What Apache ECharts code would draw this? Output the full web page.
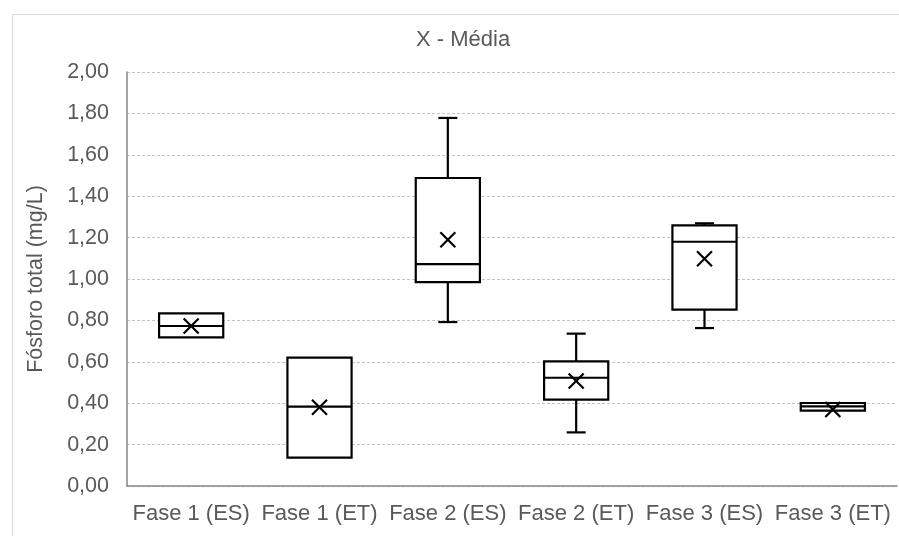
<!DOCTYPE html>
<html>
<head>
<meta charset="utf-8">
<script src="https://cdn.jsdelivr.net/npm/echarts@6/dist/echarts.min.js"></script>
<style>html,body{margin:0;padding:0;background:#fff}#c{width:899px;height:536px}</style>
</head>
<body>
<div id="c"></div>
<script>
const categories = ['Fase 1 (ES)', 'Fase 1 (ET)', 'Fase 2 (ES)', 'Fase 2 (ET)', 'Fase 3 (ES)', 'Fase 3 (ET)'];
const minVals    = [0.718, 0.137, 0.792, 0.259, 0.763, 0.364];
const q1Vals     = [0.718, 0.137, 0.985, 0.417, 0.852, 0.364];
const medianVals = [0.773, 0.383, 1.072, 0.523, 1.180, 0.385];
const q3Vals     = [0.834, 0.620, 1.488, 0.602, 1.259, 0.401];
const maxVals    = [0.834, 0.620, 1.778, 0.736, 1.269, 0.401];
const meanVals   = [0.773, 0.380, 1.190, 0.507, 1.098, 0.370];
const yTicks = [0, 0.2, 0.4, 0.6, 0.8, 1.0, 1.2, 1.4, 1.6, 1.8, 2.0];

const data = categories.map((c, i) => [i, minVals[i], q1Vals[i], medianVals[i], q3Vals[i], maxVals[i], meanVals[i]]);

const chart = echarts.init(document.getElementById('c'), null, {renderer: 'canvas'});
const FONT = 'Liberation Sans, Arial, sans-serif';
const TXT = '#595959';

chart.setOption({
  animation: false,
  backgroundColor: '#fff',
  title: {
    text: 'X - Média', left: 411, top: 24,
    textStyle: {fontFamily: FONT, fontSize: 22, fontWeight: 'normal', color: TXT}
  },
  graphic: [{
    type: 'rect', left: 10, top: 12, z: -1, silent: true,
    shape: {width: 1000, height: 1000},
    style: {fill: 'none', stroke: '#d9d9d9', lineWidth: 1}
  }],
  grid: {left: 127, right: 2, top: 72, bottom: 50},
  xAxis: {
    type: 'category', data: categories,
    axisLine: {lineStyle: {color: '#868686', width: 1.5}},
    axisTick: {show: false},
    axisLabel: {fontFamily: FONT, fontSize: 22, color: TXT, margin: 17, interval: 0},
    splitLine: {show: false}
  },
  yAxis: {
    type: 'value', min: 0, max: 2, interval: 0.2,
    name: 'Fósforo total (mg/L)', nameLocation: 'middle', nameGap: 80, nameRotate: 90,
    nameTextStyle: {fontFamily: FONT, fontSize: 21.5, color: TXT},
    axisLine: {show: true, lineStyle: {color: '#868686', width: 1.5}},
    axisTick: {show: false},
    axisLabel: {
      fontFamily: FONT, fontSize: 21.5, color: TXT, margin: 18,
      formatter: v => v.toFixed(2).replace('.', ',')
    },
    splitLine: {show: true, lineStyle: {color: '#c4c4c4', type: [3, 2], width: 1}}
  },
  series: [{
    type: 'custom',
    data: data,
    encode: {x: 0, y: [1, 2, 3, 4, 5, 6]},
    renderItem: function (params, api) {
      const i = api.value(0);
      const pMin = api.coord([i, api.value(1)]);
      const pQ1 = api.coord([i, api.value(2)]);
      const pMed = api.coord([i, api.value(3)]);
      const pQ3 = api.coord([i, api.value(4)]);
      const pMax = api.coord([i, api.value(5)]);
      const pMean = api.coord([i, api.value(6)]);
      const band = api.size([1, 0])[0];
      const bw = band * 0.5;
      const cw = 19;
      const cx = pQ1[0];
      const st = {stroke: '#000', lineWidth: 2.2, fill: 'none'};
      const m = 7.5;
      const children = [];
      if (pMax[1] < pQ3[1] - 0.5) {
        children.push({type: 'line', shape: {x1: cx, y1: pQ3[1], x2: cx, y2: pMax[1]}, style: st});
        children.push({type: 'line', shape: {x1: cx - cw / 2, y1: pMax[1], x2: cx + cw / 2, y2: pMax[1]}, style: st});
      }
      if (pMin[1] > pQ1[1] + 0.5) {
        children.push({type: 'line', shape: {x1: cx, y1: pQ1[1], x2: cx, y2: pMin[1]}, style: st});
        children.push({type: 'line', shape: {x1: cx - cw / 2, y1: pMin[1], x2: cx + cw / 2, y2: pMin[1]}, style: st});
      }
      children.push({type: 'rect', shape: {x: cx - bw / 2, y: pQ3[1], width: bw, height: pQ1[1] - pQ3[1]}, style: {stroke: '#000', lineWidth: 2.2, fill: '#fff'}});
      children.push({type: 'line', shape: {x1: cx - bw / 2, y1: pMed[1], x2: cx + bw / 2, y2: pMed[1]}, style: st});
      children.push({type: 'line', shape: {x1: pMean[0] - m, y1: pMean[1] - m, x2: pMean[0] + m, y2: pMean[1] + m}, style: st});
      children.push({type: 'line', shape: {x1: pMean[0] - m, y1: pMean[1] + m, x2: pMean[0] + m, y2: pMean[1] - m}, style: st});
      return {type: 'group', children: children};
    }
  }]
});
</script>
</body>
</html>
